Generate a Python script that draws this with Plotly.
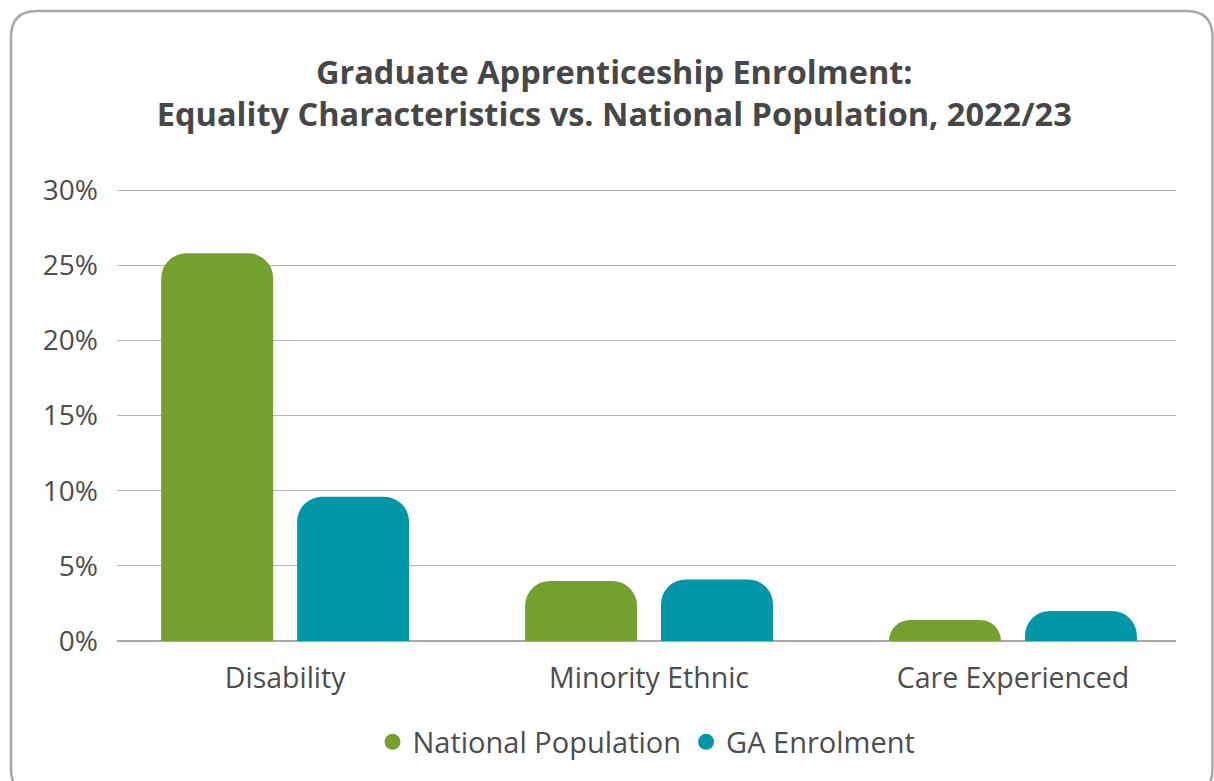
import plotly.graph_objects as go

# Chart data
categories = ["Disability", "Minority Ethnic", "Care Experienced"]
series_names = ["National Population", "GA Enrolment"]
national_population = [25.8, 4.0, 1.4]
ga_enrolment = [9.6, 4.1, 2.0]
tick_values = [0, 5, 10, 15, 20, 25, 30]
tick_labels = ["0%", "5%", "10%", "15%", "20%", "25%", "30%"]

colors = ["#74A030", "#0297A6"]
text_color = "#4d4d4d"
font_family = "Open Sans, Lato, sans-serif"

W, H = 1214, 781
L, R, T, B = 117, 38, 189, 140
pw, ph = W - L - R, H - T - B


def px_to_paper(x, y):
    return (x - L) / pw, (H - B - y) / ph


def rounded_rect_path(x0, y0, x1, y1, r):
    """Rounded rectangle in pixel coords, emitted as a paper-referenced path."""
    def P(x, y):
        px, py = px_to_paper(x, y)
        return f"{px:.5f},{py:.5f}"

    pts = [
        f"M{P(x0 + r, y0)}",
        f"L{P(x1 - r, y0)}",
        f"Q{P(x1, y0)} {P(x1, y0 + r)}",
        f"L{P(x1, y1 - r)}",
        f"Q{P(x1, y1)} {P(x1 - r, y1)}",
        f"L{P(x0 + r, y1)}",
        f"Q{P(x0, y1)} {P(x0, y1 - r)}",
        f"L{P(x0, y0 + r)}",
        f"Q{P(x0, y0)} {P(x0 + r, y0)}",
        "Z",
    ]
    return " ".join(pts)


fig = go.Figure()

for name, values, color in zip(series_names, [national_population, ga_enrolment], colors):
    fig.add_trace(go.Bar(
        x=categories, y=values, name=name,
        marker=dict(color=color, line=dict(width=0)),
        showlegend=False, hoverinfo="x+y",
    ))
    # circular legend swatch for the series
    fig.add_trace(go.Scatter(
        x=[None], y=[None], mode="markers", name=name,
        marker=dict(color=color, size=19, symbol="circle"),
        showlegend=True,
    ))

fig.update_layout(
    width=W, height=H,
    margin=dict(l=L, r=R, t=T, b=B, pad=0),
    paper_bgcolor="white", plot_bgcolor="white",
    font=dict(family=font_family, color=text_color),
    barmode="group", bargap=0.253, bargroupgap=0.176,
    barcornerradius=25,
    title=dict(
        text="<b>Graduate Apprenticeship Enrolment:<br>Equality Characteristics vs. National Population, 2022/23</b>",
        x=0.506, xanchor="center", xref="container",
        y=1 - 84 / H, yanchor="top", yref="container",
        font=dict(size=32.5, color="#474747", family=font_family),
    ),
    xaxis=dict(
        type="category", range=[-0.462, 2.448],
        showgrid=False, zeroline=False, showline=False,
        ticks="", tickfont=dict(size=28.5, color=text_color),
        ticklabelstandoff=17,
    ),
    yaxis=dict(
        range=[0, 30.08], tickvals=tick_values, ticktext=tick_labels,
        showgrid=True, gridcolor="#b5b5b5", gridwidth=1,
        zeroline=True, zerolinecolor="#a8a8a8", zerolinewidth=2,
        showline=False, ticks="",
        tickfont=dict(size=28, color=text_color),
        ticklabelstandoff=18,
    ),
    legend=dict(
        orientation="h", x=0.5, xanchor="center",
        y=(H - B - 742) / ph, yanchor="middle",
        font=dict(size=29, color=text_color),
        itemwidth=30, traceorder="normal",
        bgcolor="rgba(0,0,0,0)",
    ),
    shapes=[dict(
        type="path", xref="paper", yref="paper",
        path=rounded_rect_path(11, 11, 1212.5, 795, 26),
        line=dict(color="#a8a8a8", width=2.5),
        fillcolor="rgba(0,0,0,0)", layer="below",
    )],
)

fig.write_html("out.html")
